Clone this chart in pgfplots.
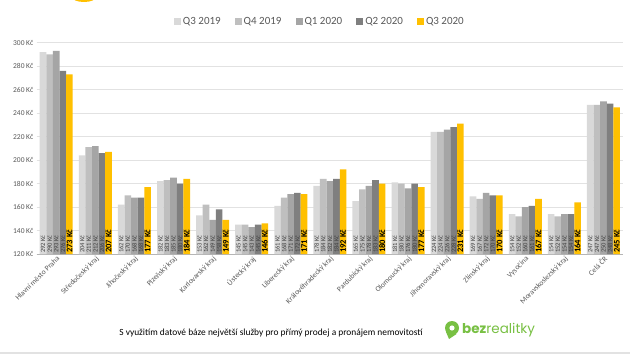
\documentclass[border=0pt]{standalone}
\usepackage{pgfplots}
\pgfplotsset{compat=1.18}
\usepackage{pgfplotstable}
\usepackage{fontspec}
\setmainfont{Carlito}
\newfontfamily\logofont{Poppins}
\definecolor{cA}{HTML}{D9D9D9}
\definecolor{cB}{HTML}{BFBFBF}
\definecolor{cC}{HTML}{A5A5A5}
\definecolor{cD}{HTML}{7F7F7F}
\definecolor{cE}{HTML}{FFC000}
\definecolor{gridc}{HTML}{E2E2E2}
\definecolor{txt}{HTML}{595959}
\definecolor{lbl}{HTML}{404040}
\definecolor{logog}{HTML}{78C043}

\pgfplotstableread{
x q319 q419 q120 q220 q320
0 292 290 293 276 273
1 204 211 212 206 207
2 162 170 168 168 177
3 182 183 185 180 184
4 153 162 149 158 149
5 145 145 143 145 146
6 161 168 171 172 171
7 178 184 182 184 192
8 165 175 178 183 180
9 181 180 176 180 177
10 224 224 226 228 231
11 169 167 172 170 170
12 154 152 160 161 167
13 154 152 154 154 164
14 247 247 250 248 245
}\data

\pgfplotsset{sqleg/.style={legend image code/.code={\fill[##1,draw=none] (0pt,-3.5pt) rectangle (7pt,3.5pt);}}}

\begin{document}
\begin{tikzpicture}
\fill[white] (0,0) rectangle (630pt,354pt);
\path[use as bounding box] (0,0) rectangle (630pt,354pt);
\fill[cE] (84pt,357pt) ellipse (12pt and 5pt);
\begin{axis}[
  at={(36.7pt,100pt)}, anchor=south west,
  scale only axis, width=586.3pt, height=211.3pt,
  ybar=0pt, bar width=6.6pt,
  xmin=-0.5, xmax=14.5, ymin=120, ymax=300,
  axis x line*=bottom, axis y line*=left,
  y axis line style={draw=none},
  x axis line style={draw=gridc!80!black, line width=0.6pt},
  major tick length=0pt,
  ytick={120,140,...,300},
  yticklabels={120 Kč,140 Kč,160 Kč,180 Kč,200 Kč,220 Kč,240 Kč,260 Kč,280 Kč,300 Kč},
  ymajorgrids, grid style={draw=gridc, line width=0.6pt},
  xtick={0,...,14},
  xticklabels={Hlavní město Praha,Středočeský kraj,Jihočeský kraj,Plzeňský kraj,Karlovarský kraj,Ústecký kraj,Liberecký kraj,Královéhradecký kraj,Pardubický kraj,Olomoucký kraj,Jihomoravský kraj,Zlínský kraj,Vysočina,Moravskoslezský kraj,Celá ČR},
  xticklabel style={rotate=45, anchor=north east, font=\fontsize{7.5}{8}\selectfont, text=txt, inner sep=1pt},
  yticklabel style={font=\fontsize{7.5}{8}\selectfont, text=txt},
  /pgf/number format/assume math mode=true,
  nodes near coords={\pgfmathprintnumber{\pgfplotspointmeta}~Kč},
  visualization depends on=y \as \rawy,
  every node near coord/.append style={shift={(axis direction cs:0,120-\rawy)}, rotate=90, anchor=west, inner sep=1pt, font=\fontsize{6.5}{7}\selectfont, text=lbl},
  legend style={draw=none, at={(0.483,1.098)}, anchor=center, legend columns=5, font=\fontsize{11}{12}\selectfont, text=txt, /tikz/every even column/.append style={column sep=12pt}},
]
\addplot[fill=cA, draw=none, sqleg] table[x=x,y=q319] {\data};
\addplot[fill=cB, draw=none, sqleg] table[x=x,y=q419] {\data};
\addplot[fill=cC, draw=none, sqleg] table[x=x,y=q120] {\data};
\addplot[fill=cD, draw=none, sqleg] table[x=x,y=q220] {\data};
\addplot[fill=cE, draw=none, sqleg, every node near coord/.append style={font=\bfseries\fontsize{8.5}{9}\selectfont, text=black}] table[x=x,y=q320] {\data};
\legend{Q3 2019,Q4 2019,Q1 2020,Q2 2020,Q3 2020}
\end{axis}
\node[font=\fontsize{9.4}{10}\selectfont, anchor=center] at (271pt,21pt) {S využitím datové báze největší služby pro přímý prodej a pronájem nemovitostí};
\fill[logog] (452pt,26pt) circle (7pt);
\fill[logog] (446pt,22pt) -- (449pt,15pt) -- (456.5pt,20pt) -- cycle;
\fill[white] (452pt,26pt) circle (2.6pt);
\node[anchor=west, text=logog, font=\logofont\fontsize{13.5}{14}\selectfont, inner sep=0pt] at (462pt,24pt) {\textbf{bez}realitky};
\fill[gridc] (0,0) rectangle (630pt,2pt);
\end{tikzpicture}
\end{document}
